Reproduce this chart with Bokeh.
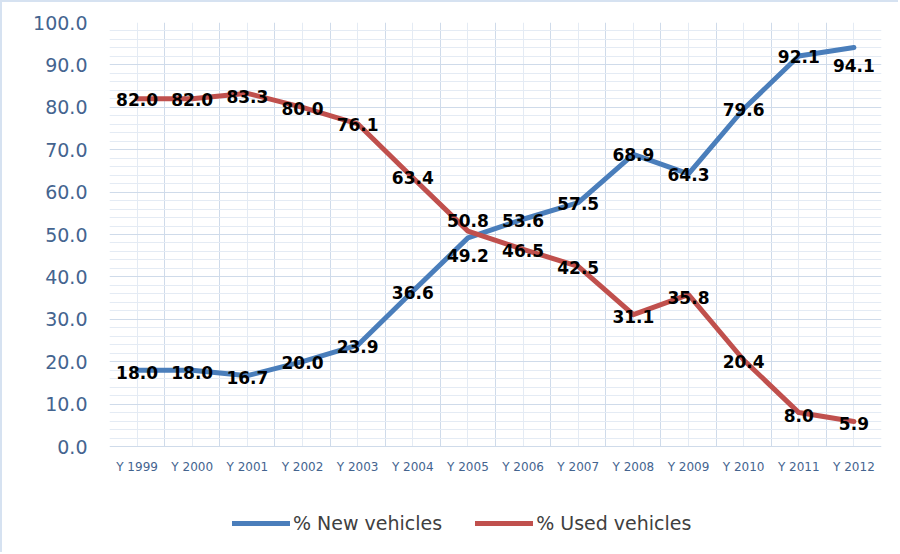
from bokeh.plotting import figure
from bokeh.models import (ColumnDataSource, Range1d, FixedTicker, PrintfTickFormatter)
from bokeh.core.properties import value
from bokeh.embed import file_html
from bokeh.resources import INLINE

# ---- data ----
years = ["Y 1999", "Y 2000", "Y 2001", "Y 2002", "Y 2003", "Y 2004", "Y 2005",
         "Y 2006", "Y 2007", "Y 2008", "Y 2009", "Y 2010", "Y 2011", "Y 2012"]
new_vehicles = [18.0, 18.0, 16.7, 20.0, 23.9, 36.6, 49.2, 53.6, 57.5, 68.9, 64.3, 79.6, 92.1, 94.1]
used_vehicles = [82.0, 82.0, 83.3, 80.0, 76.1, 63.4, 50.8, 46.5, 42.5, 31.1, 35.8, 20.4, 8.0, 5.9]
y_ticks = [0, 10, 20, 30, 40, 50, 60, 70, 80, 90, 100]

# label placement tweaks (screen px, positive = down)
new_label_dy = [2, 2, 2, 1, 1, 1, 18, 1, 1, 0, 1, 1, 1, 18]
used_label_dy = [1, 1, 3, 1, 1, 0, -11, 1, 1, 2, 3, 1, 3, 2]

BLUE = "#4A7EBB"
RED = "#C0504D"
AXIS_TXT = "#44648F"
FONT = "DejaVu Sans"

# layout (canvas px)
W, H = 898, 552
PLOT_TOP, PLOT_BOTTOM = 20, 444      # pixel rows of 100 and 0
px_per_unit = (PLOT_BOTTOM - PLOT_TOP) / 100.0
y_start = -(H - PLOT_BOTTOM) / px_per_unit

xs = [i + 0.5 for i in range(len(years))]

p = figure(width=W, height=H, output_backend="svg", toolbar_location=None,
           x_range=Range1d(0, len(years)), y_range=Range1d(y_start, 100),
           min_border_left=107, min_border_right=19, min_border_top=PLOT_TOP,
           min_border_bottom=0, outline_line_color=None,
           background_fill_color="white", border_fill_color="white")
p.title = None
p.styles = {"border-top": "2px solid #D6E2F1", "border-left": "2px solid #D6E2F1"}

# grids
minor_y = [v for v in range(2, 100, 2) if v % 10]
p.xgrid.ticker = FixedTicker(ticks=list(range(len(years) + 1)), minor_ticks=xs)
p.xgrid.grid_line_color = "#CFDBEA"
p.xgrid.minor_grid_line_color = "#E4EBF4"
p.xgrid.cross_bounds = (0, 100)
p.ygrid.ticker = FixedTicker(ticks=y_ticks, minor_ticks=minor_y)
p.ygrid.grid_line_color = "#CFDBEA"
p.ygrid.minor_grid_line_color = "#E4EBF4"

# axes
p.xaxis.ticker = FixedTicker(ticks=xs)
p.xaxis.fixed_location = 0
p.xaxis.major_label_overrides = {x: y for x, y in zip(xs, years)}
p.xaxis.major_label_text_font = FONT
p.xaxis.major_label_text_font_size = "12px"
p.xaxis.major_label_text_color = AXIS_TXT
p.xaxis.major_label_standoff = 7
p.yaxis.ticker = FixedTicker(ticks=y_ticks)
p.yaxis.formatter = PrintfTickFormatter(format="%.1f")
p.yaxis.major_label_text_font = FONT
p.yaxis.major_label_text_font_size = "19px"
p.yaxis.major_label_text_color = AXIS_TXT
p.yaxis.major_label_standoff = 16
for ax in (p.xaxis[0], p.yaxis[0]):
    ax.axis_line_color = None
    ax.major_tick_line_color = None
    ax.minor_tick_line_color = None

src = ColumnDataSource(dict(x=xs, new=new_vehicles, used=used_vehicles,
                            new_txt=[f"{v:.1f}" for v in new_vehicles],
                            used_txt=[f"{v:.1f}" for v in used_vehicles],
                            new_dy=new_label_dy, used_dy=used_label_dy))

p.line("x", "new", source=src, line_color=BLUE, line_width=5, line_join="round",
       line_cap="round", legend_label="% New vehicles")
p.line("x", "used", source=src, line_color=RED, line_width=5, line_join="round",
       line_cap="round", legend_label="% Used vehicles")

for col, dy in (("new_txt", "new_dy"), ("used_txt", "used_dy")):
    p.text(x="x", y=col.split("_")[0], text=col, source=src, y_offset=dy,
           text_align="center", text_baseline="middle", text_font=value(FONT),
           text_font_style="bold", text_font_size="17px", text_color="black")

lg = p.legend[0]
lg.location = (123, 20)
lg.orientation = "horizontal"
lg.border_line_color = None
lg.background_fill_alpha = 0
lg.padding = 0
lg.margin = 0
lg.spacing = 33
lg.glyph_width = 58
lg.glyph_height = 20
lg.label_height = 20
lg.label_standoff = 3
lg.label_text_font = FONT
lg.label_text_font_size = "19px"
lg.label_text_color = "#404040"

open("out.html", "w").write(file_html(p, INLINE))
